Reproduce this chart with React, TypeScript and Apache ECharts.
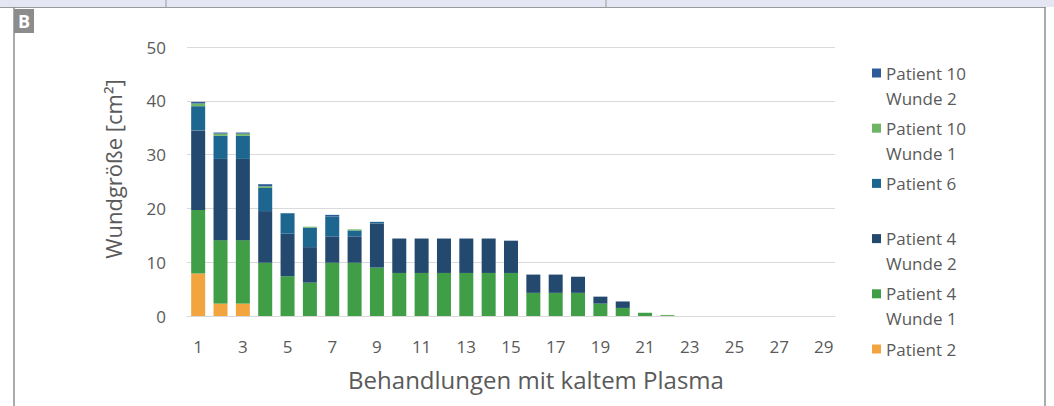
import React, { useEffect, useRef } from "react";
import * as echarts from "echarts";

const categories = Array.from({ length: 29 }, (_, i) => String(i + 1));

const patient2 = [7.9, 2.3, 2.3, 0, 0, 0, 0, 0, 0, 0, 0, 0, 0, 0, 0, 0, 0, 0, 0, 0, 0, 0, 0, 0, 0, 0, 0, 0, 0];
const patient4Wunde1 = [11.8, 11.8, 11.8, 9.9, 7.4, 6.2, 9.9, 9.9, 9.0, 8.0, 8.0, 8.0, 8.0, 8.0, 8.0, 4.3, 4.3, 4.3, 2.3, 1.5, 0.6, 0, 0, 0, 0, 0, 0, 0, 0];
const patient4Wunde2 = [14.8, 15.1, 15.1, 9.6, 7.9, 6.6, 4.9, 4.9, 8.2, 6.4, 6.4, 6.4, 6.4, 6.4, 6.0, 3.4, 3.4, 3.0, 1.3, 1.2, 0, 0, 0, 0, 0, 0, 0, 0, 0];
const patient6 = [4.5, 4.3, 4.3, 4.3, 3.8, 3.6, 3.7, 1.1, 0.3, 0, 0, 0, 0, 0, 0, 0, 0, 0, 0, 0, 0, 0, 0, 0, 0, 0, 0, 0, 0];
const patient10Wunde1 = [0.5, 0.4, 0.4, 0.3, 0, 0.2, 0, 0.2, 0, 0, 0, 0, 0, 0, 0, 0, 0, 0, 0, 0, 0, 0.2, 0, 0, 0, 0, 0, 0, 0];
const patient10Wunde2 = [0.3, 0.2, 0.2, 0.4, 0, 0, 0.3, 0, 0, 0, 0, 0, 0, 0, 0, 0, 0, 0, 0, 0, 0, 0, 0, 0, 0, 0, 0, 0, 0];

const yTicks = { min: 0, max: 50, interval: 10 };

const seriesDefs = [
  { name: "Patient 2", label: "Patient 2", sub: "", data: patient2, color: "#F2A53F" },
  { name: "Patient 4 Wunde 1", label: "Patient 4", sub: "Wunde 1", data: patient4Wunde1, color: "#3F9E46" },
  { name: "Patient 4 Wunde 2", label: "Patient 4", sub: "Wunde 2", data: patient4Wunde2, color: "#24496F" },
  { name: "Patient 6", label: "Patient 6", sub: "", data: patient6, color: "#1D6690" },
  { name: "Patient 10 Wunde 1", label: "Patient 10", sub: "Wunde 1", data: patient10Wunde1, color: "#6DB565" },
  { name: "Patient 10 Wunde 2", label: "Patient 10", sub: "Wunde 2", data: patient10Wunde2, color: "#2C5C98" },
];

const FONT = "Open Sans";
const TXT = "#5a5a5a";

export default function App() {
  const ref = useRef<HTMLDivElement>(null);
  useEffect(() => {
    if (!ref.current) return;
    const chart = echarts.init(ref.current, null, { renderer: "svg" });
    const legendOrder = [...seriesDefs].reverse();
    const legendTop = 64;
    const pitch = 55.2;
    const subTexts: any[] = [];
    legendOrder.forEach((s, i) => {
      if (s.sub) {
        subTexts.push({
          type: "text",
          x: 886,
          y: legendTop + 9 + i * pitch + 25,
          style: { text: s.sub, fill: TXT, font: `17px "${FONT}"`, align: "left", verticalAlign: "middle" },
        });
      }
    });
    chart.setOption({
      animation: false,
      backgroundColor: "#ffffff",
      grid: { left: 187, right: 219, top: 47, bottom: 90 },
      xAxis: {
        type: "category",
        data: categories,
        axisTick: { show: false },
        axisLine: { show: true, lineStyle: { color: "#d9d9d9", width: 1 } },
        axisLabel: { interval: 1, margin: 22, color: TXT, fontSize: 17, fontFamily: FONT },
      },
      yAxis: {
        type: "value",
        min: yTicks.min,
        max: yTicks.max,
        interval: yTicks.interval,
        axisLine: { show: false },
        axisTick: { show: false },
        splitLine: { lineStyle: { color: "#dadada", width: 1 } },
        axisLabel: { margin: 21, color: TXT, fontSize: 17, fontFamily: FONT },
      },
      legend: {
        orient: "vertical",
        left: 872,
        top: legendTop,
        padding: 0,
        itemWidth: 9,
        itemHeight: 9,
        itemGap: pitch - 18,
        icon: "rect",
        data: legendOrder.map((s) => s.name),
        formatter: (name: string) => {
          const s = seriesDefs.find((d) => d.name === name);
          return s ? s.label : name;
        },
        textStyle: { color: TXT, fontSize: 17, fontFamily: FONT, lineHeight: 18 },
      },
      series: seriesDefs.map((s) => ({
        name: s.name,
        type: "bar",
        stack: "total",
        barWidth: 14,
        data: s.data,
        itemStyle: { color: s.color },
      })),
      graphic: [
        { type: "rect", shape: { x: 0, y: 0, width: 1054, height: 7 }, style: { fill: "#e4e6f3" } },
        { type: "line", shape: { x1: 0, y1: 7.5, x2: 1046, y2: 7.5 }, style: { stroke: "#9a9a9a", lineWidth: 1.2 } },
        { type: "line", shape: { x1: 166, y1: 0, x2: 166, y2: 7 }, style: { stroke: "#9a9a9a", lineWidth: 1 } },
        { type: "line", shape: { x1: 606, y1: 0, x2: 606, y2: 7 }, style: { stroke: "#9a9a9a", lineWidth: 1 } },
        { type: "line", shape: { x1: 14, y1: 7, x2: 14, y2: 406 }, style: { stroke: "#8f8f8f", lineWidth: 1.5 } },
        { type: "line", shape: { x1: 1045, y1: 7, x2: 1045, y2: 406 }, style: { stroke: "#8f8f8f", lineWidth: 1.5 } },
        { type: "rect", shape: { x: 14, y: 9, width: 20, height: 24 }, style: { fill: "#8c8c8c" } },
        {
          type: "text",
          x: 24,
          y: 21,
          style: { text: "B", fill: "#ffffff", font: `bold 18px "${FONT}"`, align: "center", verticalAlign: "middle" },
        },
        {
          type: "text",
          x: 113,
          y: 169,
          rotation: Math.PI / 2,
          style: { text: "Wundgröße [cm²]", fill: TXT, font: `22px "${FONT}"`, align: "center", verticalAlign: "middle" },
        },
        {
          type: "text",
          x: 536,
          y: 379,
          style: { text: "Behandlungen mit kaltem Plasma", fill: TXT, font: `24px "${FONT}"`, align: "center", verticalAlign: "middle" },
        },
        ...subTexts,
      ],
    });
    return () => chart.dispose();
  }, []);
  return (
    <div
      ref={ref}
      style={{ position: "absolute", left: 0, top: 0, width: 1054, height: 406, background: "#ffffff" }}
    />
  );
}
